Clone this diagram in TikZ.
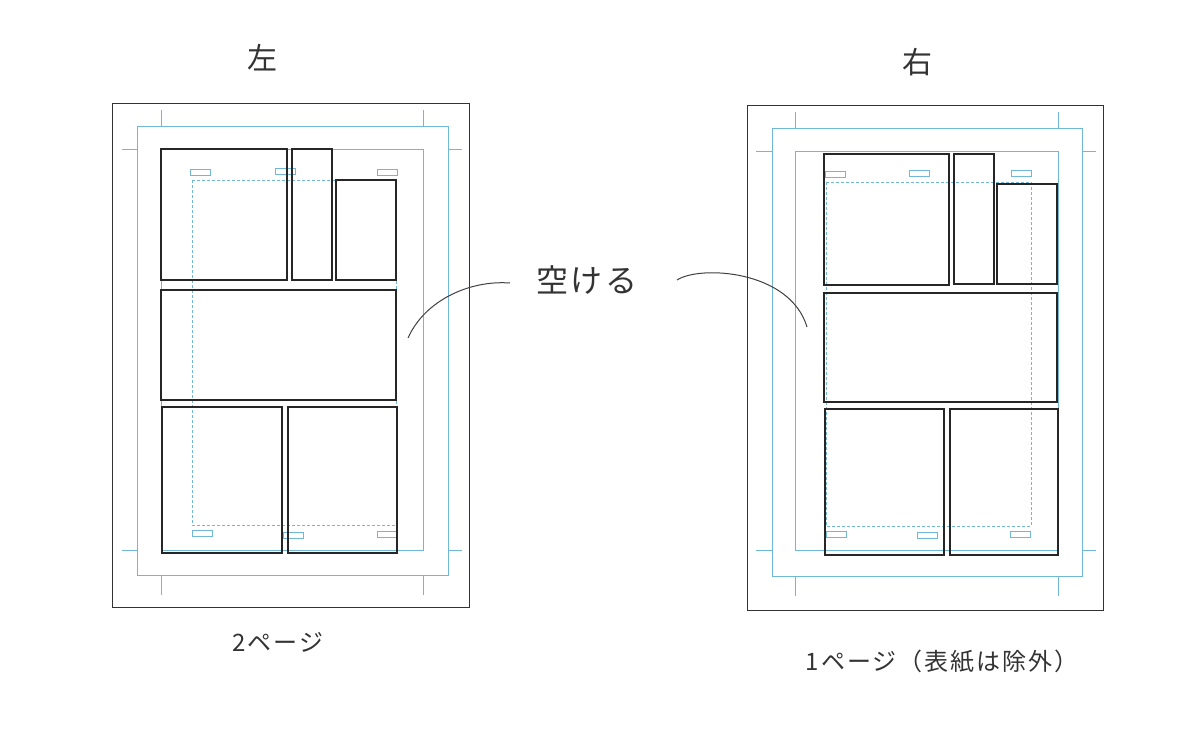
\documentclass[tikz,border=0pt]{standalone}
\usepackage{fontspec}
\newfontfamily\jp{Noto Sans CJK JP}[LetterSpace=8]
\begin{document}
\begin{tikzpicture}[x=1pt,y=-1pt,
  page/.style={draw=black!80,line width=1pt},
  guide/.style={draw=cyan!50!teal!65,line width=0.9pt},
  dguide/.style={draw=cyan!50!teal!65,line width=0.7pt,dash pattern=on 3pt off 2pt},
  panel/.style={draw=black!85,line width=1.1pt},
  tab/.style={draw=cyan!50!teal!65,line width=0.7pt},
  lbl/.style={font=\jp\fontsize{24}{24}\selectfont,text=black!80}]
\useasboundingbox (0,0) rectangle (1200,750);
% ---- left page
\draw[page] (112,103) rectangle (469,607);
\draw[guide] (137,126) rectangle (448,575);
\draw[guide] (161,149) rectangle (423,550);
\foreach \x in {161,423}{\draw[guide] (\x,110)--(\x,126); \draw[guide] (\x,575)--(\x,595);}
\foreach \y in {149,550}{\draw[guide] (122,\y)--(137,\y); \draw[guide] (448,\y)--(462,\y);}
\draw[dguide] (192,180) rectangle (396,525);
\foreach \x/\y in {190/169,275/168,377/169,192/530,283/532,377/531}{\draw[tab] (\x,\y) rectangle ++(20,6);}
\draw[panel] (161,149) rectangle (287,280);
\draw[panel] (292,149) rectangle (332,280);
\draw[panel] (336,180) rectangle (396,280);
\draw[panel] (161,290) rectangle (396,400);
\draw[panel] (162,407) rectangle (282,553);
\draw[panel] (288,407) rectangle (397,553);
% ---- right page
\draw[page] (747,105) rectangle (1103,610);
\draw[guide] (772,128) rectangle (1082,576);
\draw[guide] (795,151) rectangle (1058,550);
\foreach \x in {795,1058}{\draw[guide] (\x,112)--(\x,128); \draw[guide] (\x,576)--(\x,596);}
\foreach \y in {151,550}{\draw[guide] (756,\y)--(772,\y); \draw[guide] (1082,\y)--(1096,\y);}
\draw[dguide] (826,182) rectangle (1031,526);
\foreach \x/\y in {825/171,909/170,1011/170,826/531,917/532,1010/531}{\draw[tab] (\x,\y) rectangle ++(20,6);}
\draw[panel] (824,154) rectangle (949,285);
\draw[panel] (954,154) rectangle (994,284);
\draw[panel] (997,184) rectangle (1057,284);
\draw[panel] (824,293) rectangle (1057,402);
\draw[panel] (825,409) rectangle (944,555);
\draw[panel] (950,409) rectangle (1058,555);
% ---- labels
\node[lbl,font=\jp\fontsize{30}{30}\selectfont] (L) at (262,58) {左};
\node[lbl,font=\jp\fontsize{30}{30}\selectfont] (R) at (917,62) {右};
\node[lbl,font=\jp\fontsize{32}{32}\selectfont] (K) at (587,280) {空ける};
\node[lbl] (p2) at (278,642) {2ページ};
\node[lbl] (p1) at (942,661) {1ページ（表紙は除外）};
\coordinate (a) at (408,338);
\coordinate (a2) at (510,283);
\coordinate (b) at (677,280);
\coordinate (c) at (807,327);
\draw[black!75,line width=1pt] (a) .. controls (425,300) and (470,280) .. (a2);
\draw[black!75,line width=1pt] (b) .. controls (700,265) and (790,270) .. (c);
\end{tikzpicture}
\end{document}
